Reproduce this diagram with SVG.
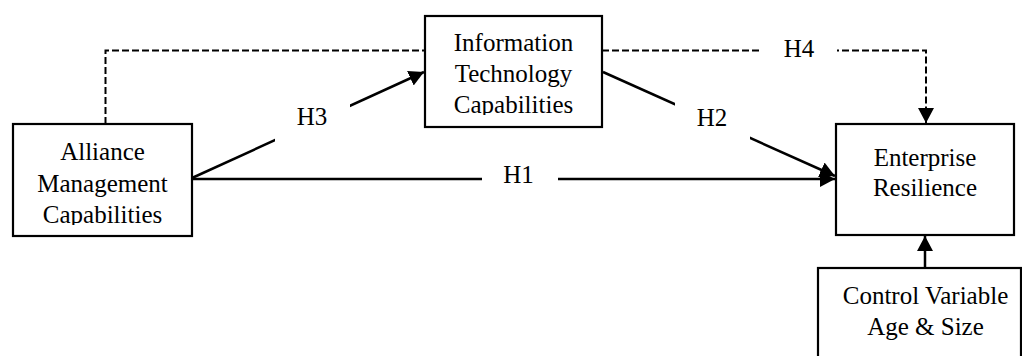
<svg xmlns="http://www.w3.org/2000/svg" width="1022" height="356" viewBox="0 0 1022 356">
  <style>
    .box { fill: #fff; stroke: #000; stroke-width: 2.2; }
    .t { font-family: "Liberation Serif", "DejaVu Serif", serif; font-size: 25px; fill: #000; text-anchor: middle; }
    .solid { fill: none; stroke: #000; stroke-width: 2.5; }
    .dash { fill: none; stroke: #000; stroke-width: 2; stroke-dasharray: 7 3; }
    .bg { fill: #fff; stroke: none; }
  </style>
  <defs>
    <marker id="arr" markerUnits="userSpaceOnUse" markerWidth="16" markerHeight="16" refX="15" refY="8" orient="auto">
      <path d="M0,0 L15,8 L0,16 Z" fill="#000"/>
    </marker>
    <clipPath id="clipA"><rect x="13" y="124" width="179" height="101"/></clipPath>
    <clipPath id="clipIT"><rect x="425" y="16" width="177" height="99"/></clipPath>
  </defs>
  <rect width="1022" height="356" fill="#fff"/>

  <g id="connectors">
    <path class="dash" d="M105.5,124 V50.5 H425"/>
    <path class="dash" d="M602,50.5 H926 V123" marker-end="url(#arr)"/>
    <path class="solid" d="M192,179 L835,179" marker-end="url(#arr)"/>
    <path class="solid" d="M192,178 L424,72" marker-end="url(#arr)"/>
    <path class="solid" d="M603,72 L835,176" marker-end="url(#arr)"/>
    <path class="solid" d="M925,268 L925,236" marker-end="url(#arr)"/>
  </g>

  <g id="labels">
    <rect class="bg" x="482" y="166" width="76" height="24"/>
    <text class="t" x="518.5" y="183">H1</text>
    <rect class="bg" x="275" y="104" width="75" height="38"/>
    <text class="t" x="312" y="125">H3</text>
    <rect class="bg" x="675" y="102" width="75" height="40"/>
    <text class="t" x="712" y="126">H2</text>
    <rect class="bg" x="760" y="40" width="77" height="22"/>
    <text class="t" x="799" y="57">H4</text>
  </g>

  <g id="alliance">
    <rect class="box" x="13" y="124" width="179" height="112"/>
    <g clip-path="url(#clipA)">
      <text class="t" x="102.5" y="160">Alliance</text>
      <text class="t" x="102.5" y="191.5">Management</text>
      <text class="t" x="102.5" y="223">Capabilities</text>
    </g>
  </g>

  <g id="it">
    <rect class="box" x="425" y="16" width="177" height="111"/>
    <g clip-path="url(#clipIT)">
      <text class="t" x="513.5" y="50.5">Information</text>
      <text class="t" x="513.5" y="81.5">Technology</text>
      <text class="t" x="513.5" y="112.5">Capabilities</text>
    </g>
  </g>

  <g id="resilience">
    <rect class="box" x="836" y="124" width="178" height="111"/>
    <text class="t" x="925" y="166">Enterprise</text>
    <text class="t" x="925" y="196">Resilience</text>
  </g>

  <g id="control">
    <rect class="box" x="818" y="268" width="203" height="100"/>
    <text class="t" x="925.5" y="304">Control Variable</text>
    <text class="t" x="925.5" y="335">Age &amp; Size</text>
  </g>
</svg>
